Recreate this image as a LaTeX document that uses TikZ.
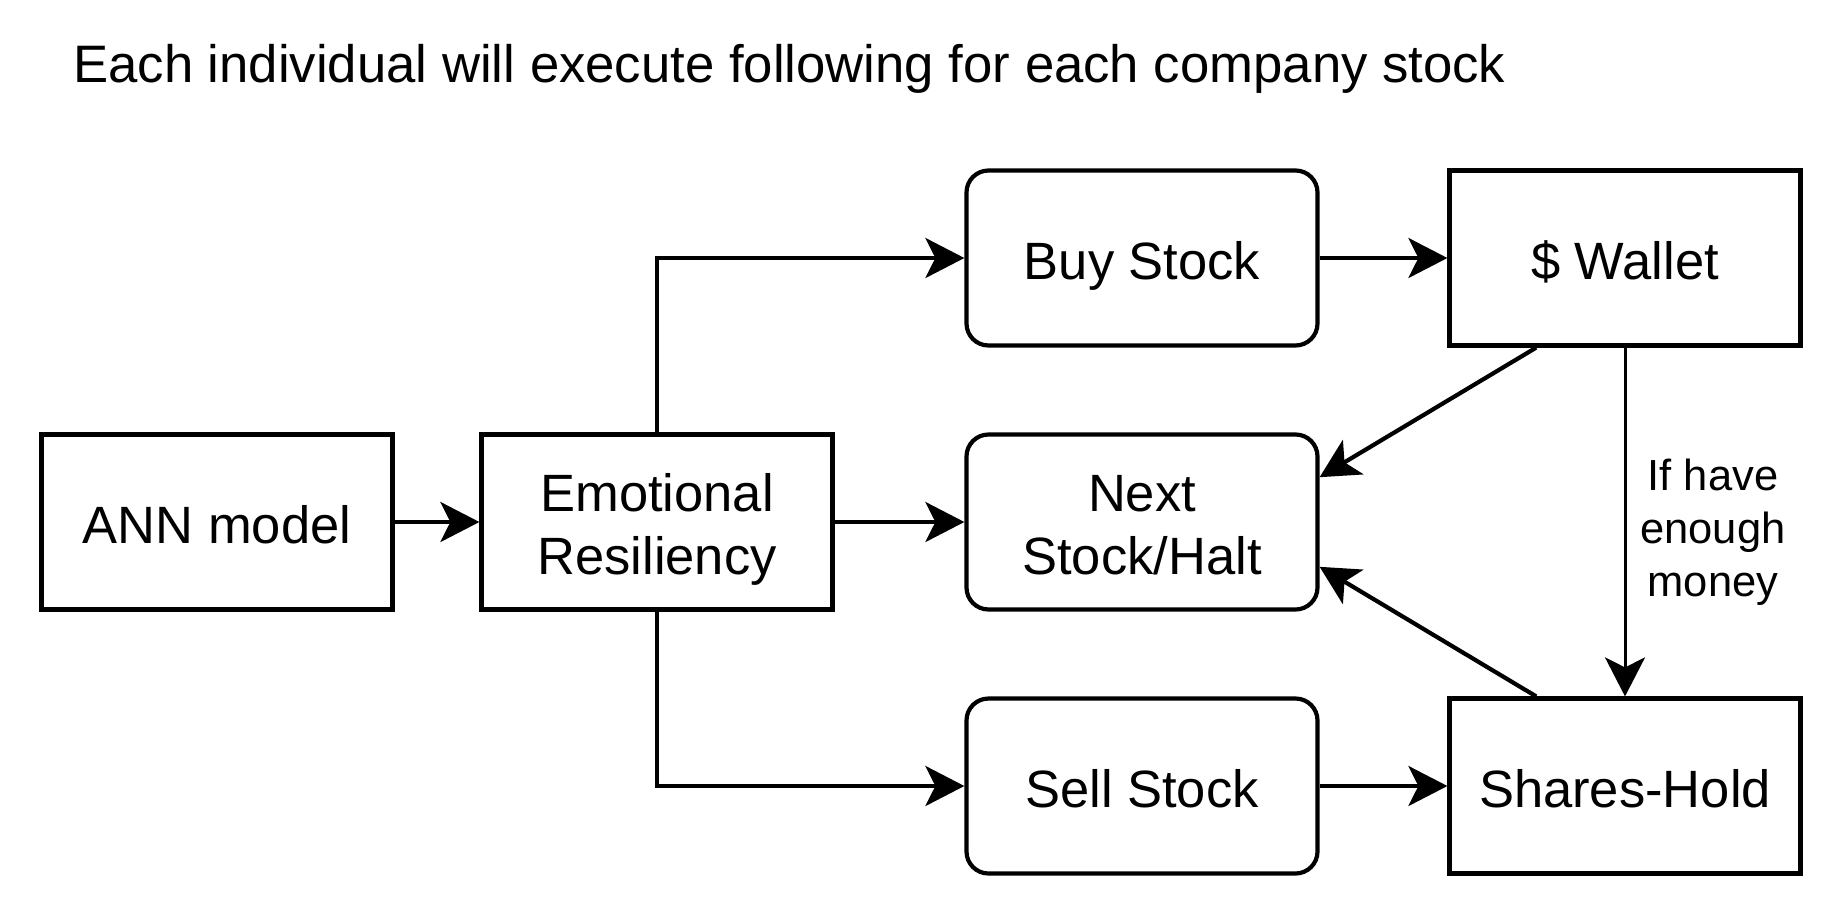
\documentclass[tikz,border=0pt]{standalone}
\usepackage{fontspec}
\setmainfont{Liberation Sans}
\usetikzlibrary{arrows.meta,calc}
\begin{document}
\begin{tikzpicture}[x=1pt,y=-1pt,
  box/.style={draw, line width=4.2pt, minimum width=351pt, minimum height=175pt, inner sep=0pt},
  rbox/.style={box, rounded corners=22pt},
  txt/.style={anchor=base, inner sep=0pt, font=\fontsize{52.5}{63}\selectfont},
  arr/.style={line width=4.2pt, -{Stealth[length=39pt,width=40pt,inset=10pt]}},
  lbl/.style={align=center, inner sep=0pt, font=\fontsize{43.5}{53}\selectfont},
  ttl/.style={anchor=base west, inner sep=0pt, font=\fontsize{52.7}{63}\selectfont}
]
\useasboundingbox (0,0) rectangle (1840,906);
\node[ttl] (title) at (73,82) {Each individual will execute following for each company stock};
\node[box] (ann) at (217,522) {};
\node[box] (emo) at (657,522) {};
\node[rbox] (buy) at (1142,258) {};
\node[box] (wallet) at (1625,258) {};
\node[rbox] (next) at (1142,522) {};
\node[rbox] (sell) at (1142,786) {};
\node[box] (shares) at (1625,786) {};
\node[txt] (annt) at ([yshift=-21pt]ann.center) {ANN model};
\node[txt] (emot1) at ([yshift=10.5pt]emo.center) {Emotional};
\node[txt] (emot2) at ([yshift=-52.5pt]emo.center) {Resiliency};
\node[txt] (buyt) at ([yshift=-21pt]buy.center) {Buy Stock};
\node[txt] (wallett) at ([yshift=-21pt]wallet.center) {\$ Wallet};
\node[txt] (nextt1) at ([yshift=10.5pt]next.center) {Next};
\node[txt] (nextt2) at ([yshift=-52.5pt]next.center) {Stock/Halt};
\node[txt] (sellt) at ([yshift=-21pt]sell.center) {Sell Stock};
\node[txt] (sharest) at ([yshift=-21pt]shares.center) {Shares-Hold};
\coordinate (wq) at ($(wallet.south west)!0.25!(wallet.south east)$);
\coordinate (sq) at ($(shares.north west)!0.25!(shares.north east)$);
\coordinate (nu) at ($(next.north east)!0.25!(next.south east)$);
\coordinate (nd) at ($(next.north east)!0.75!(next.south east)$);
\draw[arr] (ann.east) -- (emo.west);
\draw[arr] (emo.north) |- (buy.west);
\draw[arr] (emo.east) -- (next.west);
\draw[arr] (emo.south) |- (sell.west);
\draw[arr] (buy.east) -- (wallet.west);
\draw[arr] (sell.east) -- (shares.west);
\draw[arr] (wq) -- (nu);
\draw[arr] (sq) -- (nd);
\draw[arr, line width=3pt] (wallet.south) -- (shares.north);
\node[lbl] (cond) at (1713,532) {If have\\enough\\money};
\end{tikzpicture}
\end{document}
